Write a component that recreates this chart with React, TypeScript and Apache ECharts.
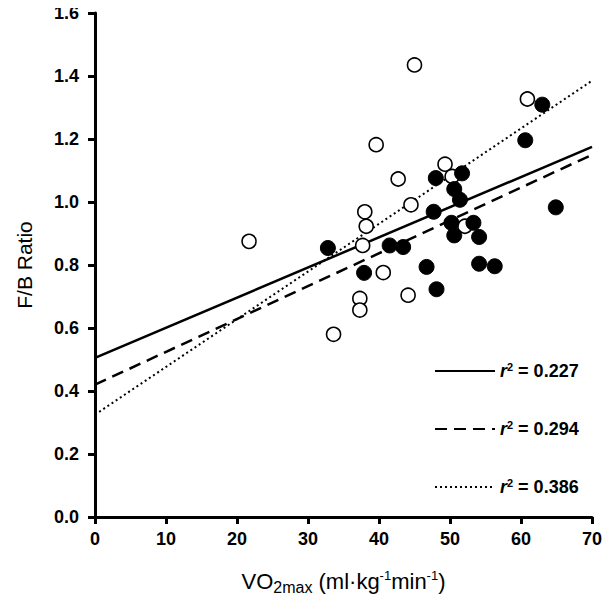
import React, { useEffect, useRef } from "react";
import * as echarts from "echarts";

const openX = [21.7, 33.6, 37.3, 37.3, 37.7, 38.2, 38.0, 39.6, 40.6, 42.7, 44.1, 44.5, 45.0, 49.3, 50.3, 52.1, 60.9];
const openY = [0.875, 0.58, 0.694, 0.657, 0.862, 0.923, 0.969, 1.182, 0.776, 1.073, 0.704, 0.991, 1.435, 1.12, 1.081, 0.923, 1.327];

const filledX = [32.8, 37.9, 41.5, 43.4, 46.7, 48.1, 47.7, 48.0, 51.7, 50.6, 51.4, 50.2, 50.6, 53.3, 54.1, 54.1, 56.3, 60.6, 63.0, 64.9];
const filledY = [0.854, 0.775, 0.862, 0.857, 0.794, 0.723, 0.969, 1.076, 1.091, 1.041, 1.007, 0.934, 0.894, 0.934, 0.889, 0.804, 0.796, 1.196, 1.309, 0.983];

const fitX = [0, 70];
const solidFitY = [0.505, 1.175];
const dashedFitY = [0.42, 1.15];
const dottedFitY = [0.325, 1.385];

const r2Labels = ["0.227", "0.294", "0.386"];
const fitNames = ["solid", "dashed", "dotted"];

const FONT = "Liberation Sans, Arial, sans-serif";

export default function App() {
  const ref = useRef<HTMLDivElement>(null);
  useEffect(() => {
    if (!ref.current) return;
    const chart = echarts.init(ref.current, null, { renderer: "svg" });
    const pairs = (xs: number[], ys: number[]) => xs.map((x, i) => [x, ys[i]]);
    const dashTypes: Record<string, any> = { solid: "solid", dashed: [12, 7], dotted: [2, 3] };
    const fitSeries = (name: string, ys: number[]) => ({
      name,
      type: "line",
      data: pairs(fitX, ys),
      symbol: "none",
      color: "#000",
      lineStyle: { color: "#000", width: name === "dotted" ? 2 : 2.5, type: dashTypes[name] },
      z: 1,
    });
    chart.setOption({
      animation: false,
      backgroundColor: "#fff",
      grid: { left: 95, right: 18, top: 13, bottom: 80 },
      xAxis: {
        type: "value",
        min: 0,
        max: 70,
        interval: 10,
        splitLine: { show: false },
        axisLine: { onZero: false, lineStyle: { color: "#000", width: 3 } },
        axisTick: { show: true, length: 7, lineStyle: { color: "#000", width: 3 } },
        axisLabel: { color: "#000", fontSize: 18, fontWeight: "bold", fontFamily: FONT, margin: 13 },
        name: "VO{sub|2max} (ml·kg{sup|-1}min{sup|-1})",
        nameLocation: "middle",
        nameGap: 50,
        nameTextStyle: {
          color: "#000",
          fontSize: 22,
          fontFamily: FONT,
          rich: {
            sub: { fontSize: 16, fontFamily: FONT, color: "#000", padding: [12, 0, 0, 0] },
            sup: { fontSize: 13, fontFamily: FONT, color: "#000", padding: [0, 0, 12, 0] },
          },
        },
      },
      yAxis: {
        type: "value",
        min: 0,
        max: 1.6,
        interval: 0.2,
        splitLine: { show: false },
        axisLine: { show: true, onZero: false, lineStyle: { color: "#000", width: 3 } },
        axisTick: { show: true, length: 7, lineStyle: { color: "#000", width: 3 } },
        axisLabel: {
          color: "#000",
          fontSize: 18,
          fontWeight: "bold",
          fontFamily: FONT,
          margin: 16,
          formatter: (v: number) => v.toFixed(1),
        },
        name: "F/B Ratio",
        nameLocation: "middle",
        nameGap: 60,
        nameRotate: 90,
        nameTextStyle: { color: "#000", fontSize: 21, fontFamily: FONT },
      },
      legend: {
        data: fitNames,
        orient: "vertical",
        left: 429,
        top: 356,
        itemWidth: 60,
        itemHeight: 14,
        itemGap: 39,
        selectedMode: false,
        itemStyle: { color: "transparent", borderColor: "transparent", borderWidth: 0, opacity: 0 },
        formatter: (name: string) => `{i|r}{s|2}{t| = ${r2Labels[fitNames.indexOf(name)]}}`,
        textStyle: {
          color: "#000",
          fontFamily: FONT,
          rich: {
            i: { fontSize: 18, fontStyle: "italic", fontWeight: "bold", fontFamily: FONT, color: "#000" },
            s: { fontSize: 11, fontWeight: "bold", fontFamily: FONT, color: "#000", padding: [0, 0, 9, 0] },
            t: { fontSize: 18, fontWeight: "bold", fontFamily: FONT, color: "#000" },
          },
        },
      },
      series: [
        fitSeries("solid", solidFitY),
        fitSeries("dashed", dashedFitY),
        fitSeries("dotted", dottedFitY),
        {
          name: "open",
          type: "scatter",
          data: pairs(openX, openY),
          symbol: "circle",
          symbolSize: 14,
          itemStyle: { color: "#fff", borderColor: "#000", borderWidth: 1.6, opacity: 1 },
          z: 3,
        },
        {
          name: "filled",
          type: "scatter",
          data: pairs(filledX, filledY),
          symbol: "circle",
          symbolSize: 15,
          itemStyle: { color: "#000", borderColor: "#000", borderWidth: 1, opacity: 1 },
          z: 4,
        },
      ],
    });
    return () => chart.dispose();
  }, []);
  return <div ref={ref} style={{ width: 610, height: 600, marginLeft: -8, marginTop: -8 }} />;
}
